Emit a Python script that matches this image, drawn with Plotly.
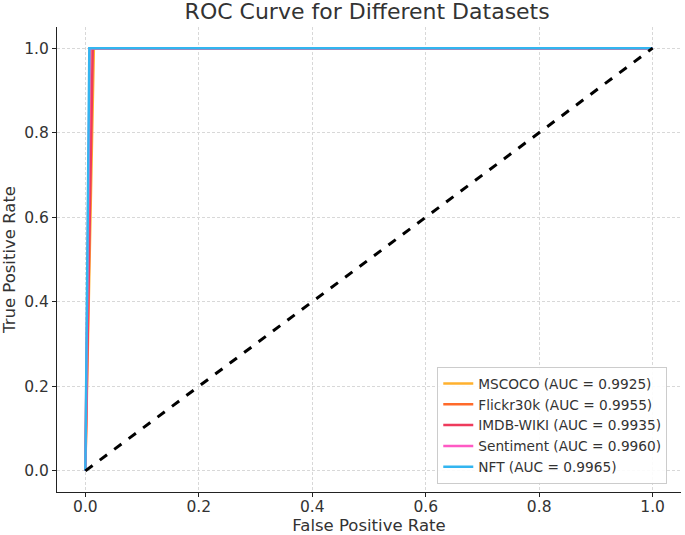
import plotly.graph_objects as go

# ROC data: each curve goes (0,0) -> (fpr,1) -> (1,1)
names = ["MSCOCO", "Flickr30k", "IMDB-WIKI", "Sentiment", "NFT"]
auc = [0.9925, 0.9955, 0.9935, 0.9960, 0.9965]
fpr = [[0, 0.015, 1], [0, 0.009, 1], [0, 0.013, 1], [0, 0.008, 1], [0, 0.007, 1]]
tpr = [[0, 1, 1], [0, 1, 1], [0, 1, 1], [0, 1, 1], [0, 1, 1]]
colors = ["#FFB12E", "#FF6A2A", "#EE3B5C", "#FF5AC4", "#33B5F0"]

chance_x = [0, 1]
chance_y = [0, 1]
ticks = [0.0, 0.2, 0.4, 0.6, 0.8, 1.0]

fig = go.Figure()
for n, a, x, y, c in zip(names, auc, fpr, tpr, colors):
    fig.add_trace(go.Scatter(x=x, y=y, mode="lines",
                             name=f"{n} (AUC = {a:.4f})",
                             line=dict(color=c, width=2.5)))

fig.add_trace(go.Scatter(x=chance_x, y=chance_y, mode="lines",
                         showlegend=False,
                         line=dict(color="black", width=3, dash="dash")))

axis_common = dict(
    range=[-0.05, 1.05], tickvals=ticks,
    tickformat=".1f",
    showgrid=True, gridcolor="#d8d8d8", griddash="3px,2px", gridwidth=1,
    zeroline=False, automargin=False,
    showline=True, linecolor="#222", linewidth=1.2,
    ticks="outside", ticklen=4, tickcolor="#222",
    tickfont=dict(size=15.5, color="#333"),
)

fig.update_layout(
    width=685, height=535,
    margin=dict(l=57, r=4, t=27, b=43),
    paper_bgcolor="white", plot_bgcolor="white",
    font=dict(family="DejaVu Sans", color="#333"),
    title=dict(text="ROC Curve for Different Datasets", x=0.536, xanchor="center",
               y=0.978, yanchor="middle", font=dict(size=22, color="#333")),
    xaxis=dict(title=dict(text="False Positive Rate", font=dict(size=16.5)),
               ticklabelstandoff=-4, **axis_common),
    yaxis=dict(title=dict(text="True Positive Rate", font=dict(size=16.5)),
               **axis_common),
    legend=dict(x=0.978, y=0.017, xanchor="right", yanchor="bottom",
                bgcolor="rgba(255,255,255,0.9)", bordercolor="#cccccc", borderwidth=1,
                font=dict(size=13.7, color="#333"), tracegroupgap=0,
                itemwidth=30),
)

# drop the browser's default 8px page margin so the figure sits at the corner
fig.write_html("out.html", config={"displayModeBar": False},
               post_script="document.body.style.margin='0';")
